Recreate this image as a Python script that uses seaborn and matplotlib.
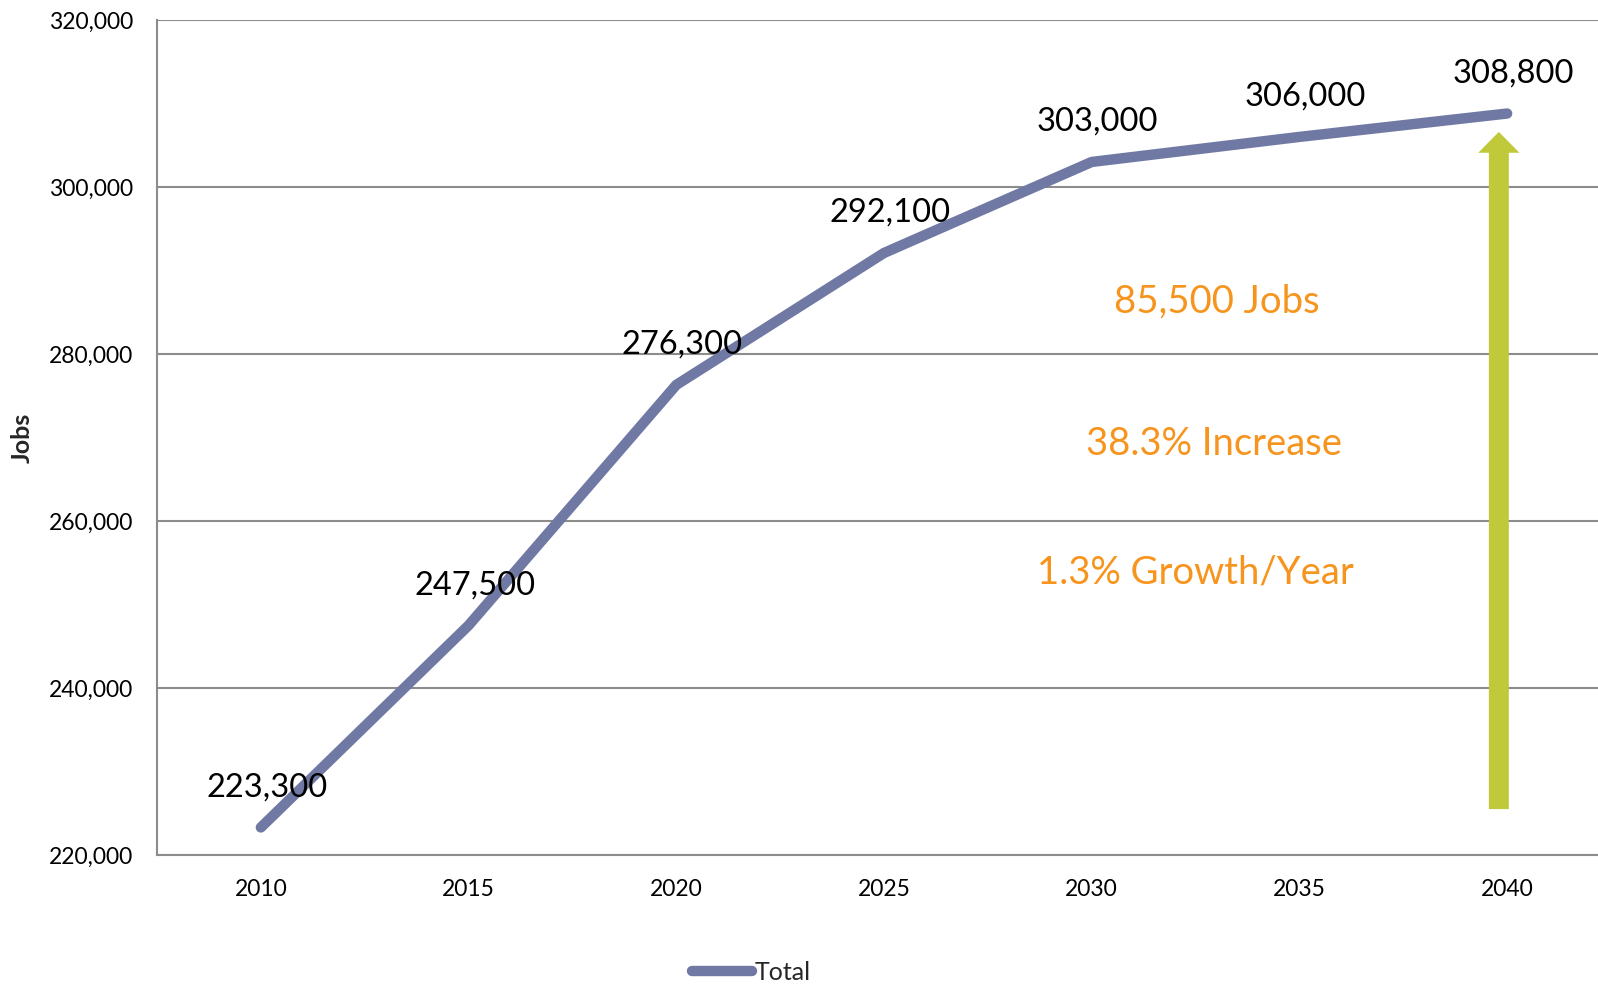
import pandas as pd
import seaborn as sns
import matplotlib.pyplot as plt

years = [2010, 2015, 2020, 2025, 2030, 2035, 2040]
jobs = [223300, 247500, 276300, 292100, 303000, 306000, 308800]
y_ticks = [220000, 240000, 260000, 280000, 300000, 320000]
notes = ["85,500 Jobs", "38.3% Increase", "1.3% Growth/Year"]
note_x = [2033.0, 2032.95, 2032.5]
note_y = [286300, 269200, 253800]

line_color = "#7079A3"
arrow_color = "#BFC93A"
note_color = "#F7941D"

sns.set_theme(style="white")
plt.rcParams['font.family'] = ['Lato', 'DejaVu Sans']

df = pd.DataFrame({"Year": years, "Jobs": jobs})

fig = plt.figure(figsize=(15.98, 9.85), dpi=100)
ax = fig.add_axes([157 / 1598, 130 / 985, 1454 / 1598, 835 / 985])

sns.lineplot(data=df, x="Year", y="Jobs", ax=ax, color=line_color,
             linewidth=7.5, solid_capstyle="round", label="Total")

for x, y in zip(years, jobs):
    ax.annotate(f"{y:,}", (x, y), xytext=(6, 40), textcoords="offset pixels",
                ha="center", va="center", fontsize=23.5, color="black")

# growth arrow at 2040
ax.arrow(2039.8, 225500, 0, 306600 - 225500, width=0.48, head_width=0.99,
         head_length=2500, length_includes_head=True, color=arrow_color, lw=0)

for txt, x, y in zip(notes, note_x, note_y):
    ax.text(x, y, txt, ha="center", va="center", fontsize=27.5, color=note_color)

ax.set_xlim(2007.5, 2042.5)
ax.set_ylim(220000, 320000)
ax.set_yticks(y_ticks)
ax.set_yticklabels([f"{t:,}" for t in y_ticks])
ax.set_xticks(years)
ax.tick_params(axis="both", labelsize=16.5, length=0, colors="black")
ax.tick_params(axis="y", pad=17)
ax.tick_params(axis="x", pad=17)
ax.grid(axis="y", color="#8c8c8c", linewidth=1.5)
ax.set_axisbelow(True)
for side in ["top", "right"]:
    ax.spines[side].set_visible(False)
for side in ["left", "bottom"]:
    ax.spines[side].set_color("#8c8c8c")
    ax.spines[side].set_linewidth(1.5)
ax.set_xlabel("")
ax.set_ylabel("Jobs", fontsize=18, fontweight="bold")
ax.yaxis.set_label_coords(-0.085, 0.5)

ax.legend_.remove()
fig.legend(loc="center", bbox_to_anchor=(0.47, 0.013), frameon=False,
           fontsize=18, handlelength=2.4, handletextpad=0.1)

plt.savefig("out.png", dpi=100)
